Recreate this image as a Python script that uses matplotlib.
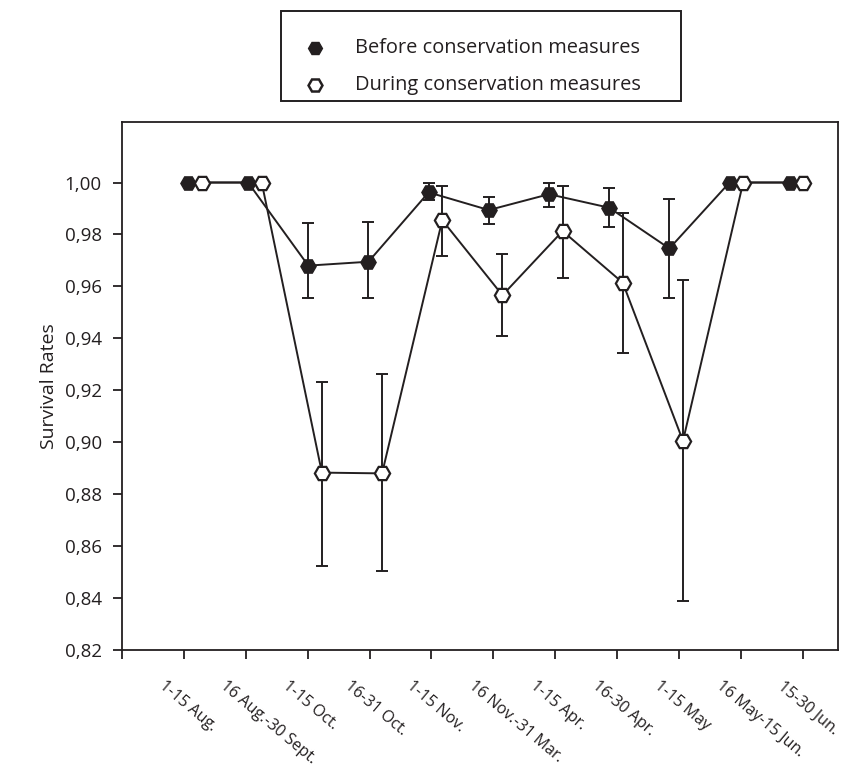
import numpy as np
import matplotlib
matplotlib.use("Agg")
import matplotlib.pyplot as plt
from matplotlib.lines import Line2D
from matplotlib.patches import Rectangle
from matplotlib.transforms import ScaledTranslation, blended_transform_factory

plt.rcParams['font.family'] = ['Open Sans', 'DejaVu Sans']

categories = ['1-15 Aug.', '16 Aug.-30 Sept.', '1-15 Oct.', '16-31 Oct.', '1-15 Nov.',
              '16 Nov.-31 Mar.', '1-15 Apr.', '16-30 Apr.', '1-15 May', '16 May-15 Jun.',
              '15-30 Jun.']

before = [1.0, 1.0, 0.968, 0.9695, 0.9962, 0.9894, 0.9955, 0.9903, 0.9746, 1.0, 1.0]
before_low = [np.nan, np.nan, 0.9556, 0.9556, 0.9931, 0.9839, 0.9907, 0.9830, 0.9554, np.nan, np.nan]
before_high = [np.nan, np.nan, 0.9843, 0.9849, 1.0, 0.9943, 1.0, 0.9979, 0.9938, np.nan, np.nan]

during = [1.0, 1.0, 0.8883, 0.888, 0.9855, 0.9566, 0.9813, 0.9614, 0.9005, 1.0, 1.0]
during_low = [np.nan, np.nan, 0.8523, 0.8506, 0.9718, 0.9409, 0.9631, 0.9344, 0.8387, np.nan, np.nan]
during_high = [np.nan, np.nan, 0.9231, 0.9263, 0.9988, 0.9723, 0.9988, 0.9884, 0.9625, np.nan, np.nan]

yticks = [0.82, 0.84, 0.86, 0.88, 0.90, 0.92, 0.94, 0.96, 0.98, 1.00]
ytick_labels = ['0,82', '0,84', '0,86', '0,88', '0,90', '0,92', '0,94', '0,96', '0,98', '1,00']

legend_labels = ['Before conservation measures', 'During conservation measures']

INK = '#231f20'

fig = plt.figure(figsize=(8.65, 7.7), dpi=100)
ax = fig.add_axes([122 / 865, 1 - 650 / 770, (838 - 122) / 865, (650 - 122) / 770])

idx = np.arange(len(categories))
x_before = 0.065 + 0.9725 * idx
x_during = x_before + 0.22

def err(vals, lo, hi):
    v = np.array(vals)
    return np.vstack([v - np.array(lo), np.array(hi) - v])

ax.errorbar(x_before, before, yerr=err(before, before_low, before_high), fmt='none',
            ecolor=INK, elinewidth=1.4, capsize=4.3, capthick=1.4, zorder=2)
ax.errorbar(x_during, during, yerr=err(during, during_low, during_high), fmt='none',
            ecolor=INK, elinewidth=1.4, capsize=4.3, capthick=1.4, zorder=2)

ax.plot(x_before, before, color=INK, lw=1.4, marker='H', markersize=11,
        markerfacecolor=INK, markeredgecolor=INK, markeredgewidth=1.0, zorder=3)
ax.plot(x_during, during, color=INK, lw=1.4, marker='H', markersize=11,
        markerfacecolor='white', markeredgecolor=INK, markeredgewidth=1.6, zorder=4)

ax.set_xlim(-1, 10.57)
ax.set_ylim(0.82, 1.0233)
ax.set_yticks(yticks)
ax.set_yticklabels(ytick_labels, fontsize=13.5, color=INK)
ax.set_xticks(np.concatenate([[-1], idx]))
ax.set_xticklabels([])

# category labels, rotated, anchored left of each tick
base = blended_transform_factory(ax.transData, ax.transAxes)
offset = ScaledTranslation(-18 / 100, -28 / 100, fig.dpi_scale_trans)
for i, cat in zip(idx, categories):
    ax.text(i, 0, cat, transform=base + offset, fontsize=11.5, color=INK,
            rotation=-40, ha='left', va='top', rotation_mode='anchor', clip_on=False)

ax.tick_params(axis='both', direction='out', length=6.5, width=1.3, color=INK)
ax.tick_params(axis='y', pad=8)
for sp in ax.spines.values():
    sp.set_linewidth(1.3)
    sp.set_color(INK)

ax.set_ylabel('Survival Rates', fontsize=14, color=INK, labelpad=5)

# Legend box
W, H = 865, 770
fig.add_artist(Rectangle((281 / W, 1 - 101 / H), 400 / W, 90 / H, transform=fig.transFigure,
                         facecolor='white', edgecolor=INK, linewidth=1.4))
rows = [48, 85]
styles = [dict(markerfacecolor=INK, markeredgecolor=INK, markeredgewidth=1.0),
          dict(markerfacecolor='white', markeredgecolor=INK, markeredgewidth=1.8)]
for r, lab, st in zip(rows, legend_labels, styles):
    fig.add_artist(Line2D([315 / W], [1 - r / H], transform=fig.transFigure, marker='H',
                          markersize=10, linestyle='none', **st))
    fig.text(355 / W, 1 - r / H, lab, fontsize=14.4, color=INK, va='center', ha='left')

fig.savefig('out.png', dpi=100)
